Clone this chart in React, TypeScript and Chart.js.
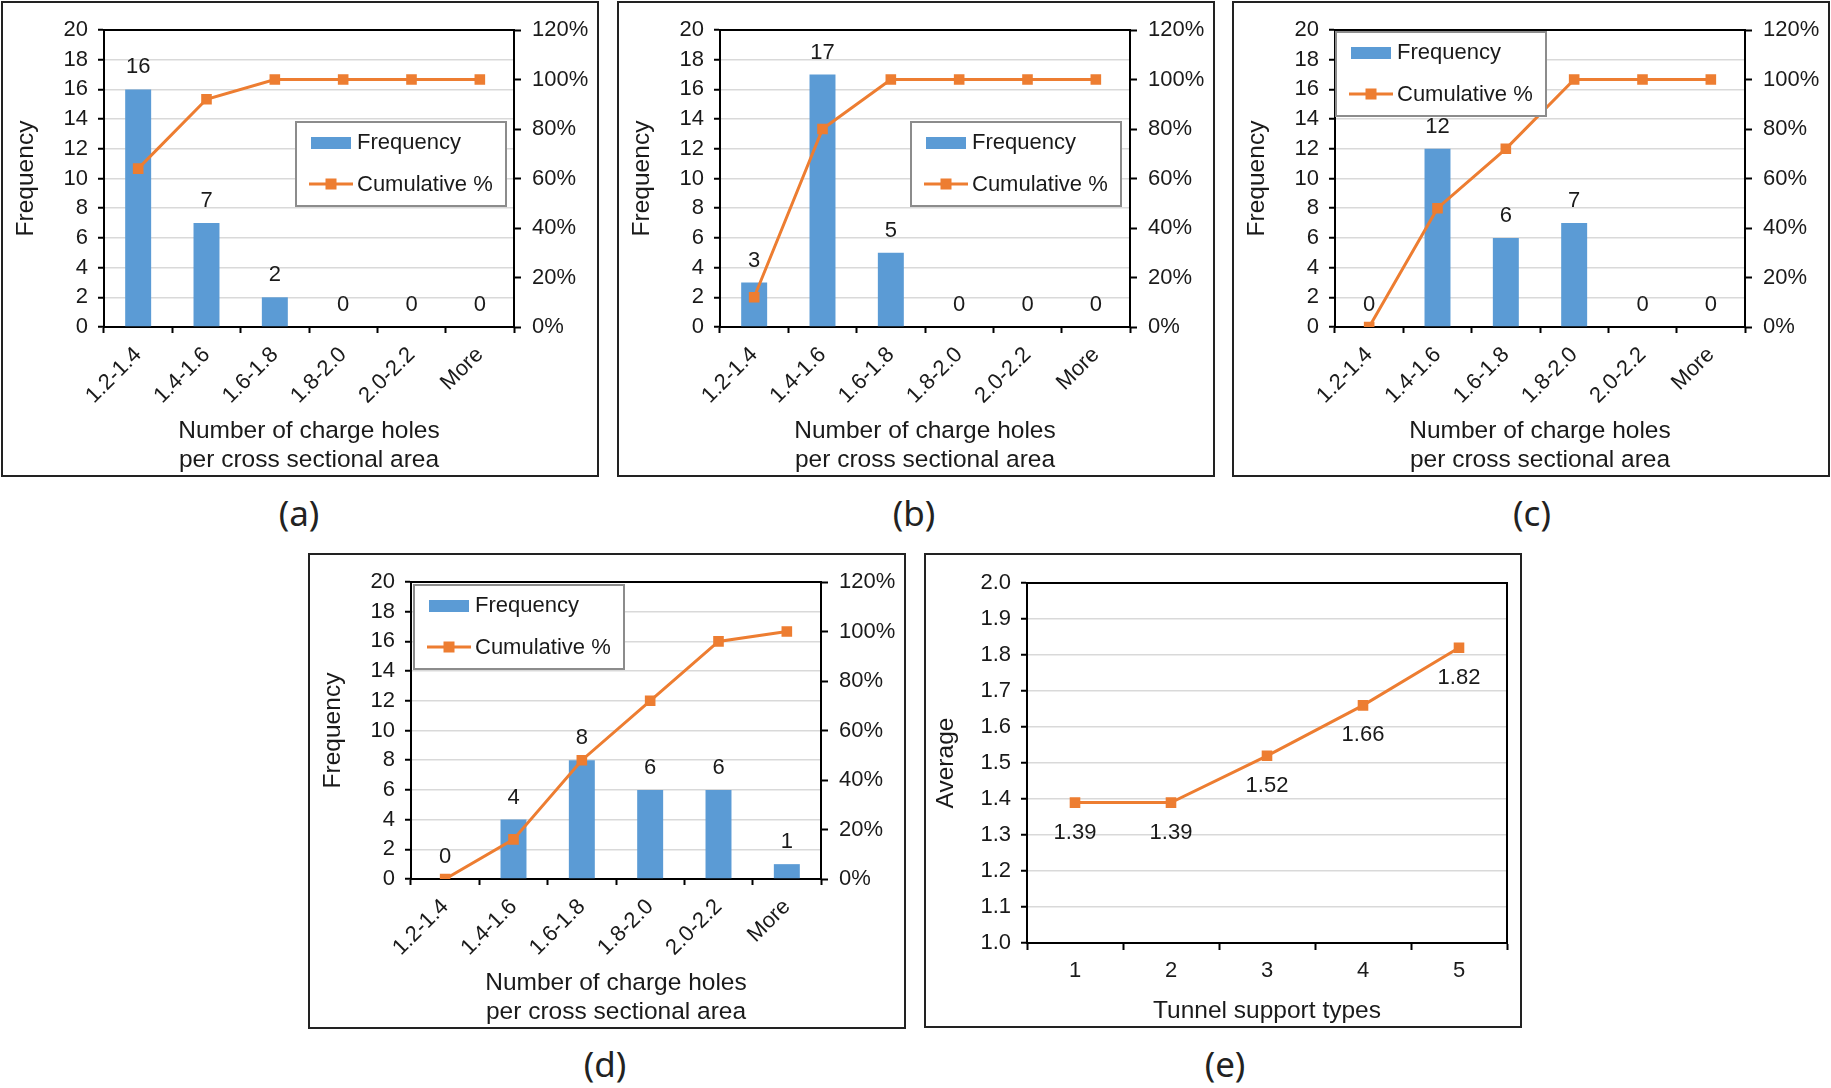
import React, { useEffect, useRef } from "react";
import { Chart, registerables } from "chart.js";

Chart.register(...registerables);

// ---------- data ----------
const binLabels = ["1.2-1.4", "1.4-1.6", "1.6-1.8", "1.8-2.0", "2.0-2.2", "More"];

const freqA = [16, 7, 2, 0, 0, 0];
const cumA = [0.64, 0.92, 1.0, 1.0, 1.0, 1.0];

const freqB = [3, 17, 5, 0, 0, 0];
const cumB = [0.12, 0.8, 1.0, 1.0, 1.0, 1.0];

const freqC = [0, 12, 6, 7, 0, 0];
const cumC = [0.0, 0.48, 0.72, 1.0, 1.0, 1.0];

const freqD = [0, 4, 8, 6, 6, 1];
const cumD = [0.0, 0.16, 0.48, 0.72, 0.96, 1.0];

const supportTypes = ["1", "2", "3", "4", "5"];
const averages = [1.39, 1.39, 1.52, 1.66, 1.82];

const xTitleHist = ["Number of charge holes", "per cross sectional area"];
const legendLabels = ["Frequency", "Cumulative %"];

// ---------- styles ----------
const FONT = "'Liberation Sans', Arial, sans-serif";
const BLUE = "#5B9BD5";
const ORANGE = "#ED7D31";
const TEXT = "#1a1a1a";
const GRID = "#D9D9D9";
const TICK_SIZE = 22;
const TITLE_SIZE = 24.5;

const framePlugin = {
  id: "frame",
  afterDraw(chart: any, _args: any, opts: any) {
    const { ctx, chartArea } = chart;
    ctx.save();
    ctx.strokeStyle = "#000";
    ctx.lineWidth = 2;
    ctx.beginPath();
    ctx.moveTo(chartArea.left - 1, chartArea.top);
    ctx.lineTo(chartArea.right + 1, chartArea.top);
    if (opts && opts.right) {
      ctx.moveTo(chartArea.right, chartArea.top);
      ctx.lineTo(chartArea.right, chartArea.bottom);
    }
    ctx.stroke();
    ctx.restore();
  },
};

const valueLabelPlugin = {
  id: "valueLabels",
  afterDatasetsDraw(chart: any, _args: any, opts: any) {
    if (!opts || !opts.enabled) return;
    const { ctx } = chart;
    const meta = chart.getDatasetMeta(opts.datasetIndex);
    const data = chart.data.datasets[opts.datasetIndex].data;
    ctx.save();
    ctx.fillStyle = TEXT;
    ctx.font = `${TICK_SIZE}px ${FONT}`;
    ctx.textAlign = "center";
    meta.data.forEach((el: any, i: number) => {
      const v = data[i];
      const txt = opts.decimals ? Number(v).toFixed(opts.decimals) : String(v);
      if (opts.below) {
        ctx.textBaseline = "middle";
        ctx.fillText(txt, el.x, el.y + opts.offset);
      } else {
        ctx.textBaseline = "bottom";
        ctx.fillText(txt, el.x, el.y - opts.offset);
      }
    });
    ctx.restore();
  },
};

const boxLegendPlugin = {
  id: "boxLegend",
  afterDraw(chart: any, _args: any, opts: any) {
    if (!opts || !opts.enabled) return;
    const { ctx, chartArea } = chart;
    const w = 210;
    const h = 84;
    const left = opts.anchor === "tr" ? chartArea.right - opts.dx - w : chartArea.left + opts.dx;
    const top = chartArea.top + opts.dy;
    ctx.save();
    ctx.fillStyle = "#fff";
    ctx.fillRect(left, top, w, h);
    ctx.strokeStyle = "#8c8c8c";
    ctx.lineWidth = 2;
    ctx.strokeRect(left, top, w, h);
    // frequency swatch
    ctx.fillStyle = BLUE;
    ctx.fillRect(left + 15, top + 15, 40, 12);
    // cumulative line + marker
    ctx.strokeStyle = ORANGE;
    ctx.lineWidth = 3;
    ctx.beginPath();
    ctx.moveTo(left + 13, top + 62);
    ctx.lineTo(left + 57, top + 62);
    ctx.stroke();
    ctx.fillStyle = ORANGE;
    ctx.fillRect(left + 35 - 5.5, top + 62 - 5.5, 11, 11);
    ctx.fillStyle = TEXT;
    ctx.font = `${TICK_SIZE}px ${FONT}`;
    ctx.textAlign = "left";
    ctx.textBaseline = "middle";
    ctx.fillText(legendLabels[0], left + 61, top + 21);
    ctx.fillText(legendLabels[1], left + 61, top + 63);
    ctx.restore();
  },
};

type HistProps = {
  freq: number[];
  cum: number[];
  legend: { anchor: string; dx: number; dy: number };
};

function HistChart({ freq, cum, legend }: HistProps) {
  const ref = useRef<HTMLCanvasElement | null>(null);
  useEffect(() => {
    if (!ref.current) return;
    const chart = new Chart(ref.current, {
      type: "bar",
      data: {
        labels: binLabels,
        datasets: [
          {
            type: "line",
            label: legendLabels[1],
            data: cum,
            yAxisID: "y1",
            borderColor: ORANGE,
            backgroundColor: ORANGE,
            borderWidth: 3,
            pointStyle: "rect",
            pointRadius: 7.5,
            pointBorderWidth: 0,
            pointBackgroundColor: ORANGE,
            tension: 0,
            order: 0,
          } as any,
          {
            type: "bar",
            label: legendLabels[0],
            data: freq,
            yAxisID: "y",
            backgroundColor: BLUE,
            borderWidth: 0,
            barPercentage: 0.38,
            categoryPercentage: 1,
            order: 1,
          } as any,
        ],
      },
      options: {
        animation: false,
        responsive: false,
        maintainAspectRatio: false,
        devicePixelRatio: 1,
        layout: { padding: { top: 27, left: 0, right: 0, bottom: 0 } },
        plugins: {
          legend: { display: false },
          tooltip: { enabled: false },
          valueLabels: { enabled: true, datasetIndex: 1, offset: 11 },
          boxLegend: { enabled: true, ...legend },
          frame: { right: false },
        } as any,
        scales: {
          x: {
            type: "category",
            offset: true,
            afterFit: (s: any) => {
              s.height = 148;
            },
            grid: {
              offset: true,
              drawOnChartArea: false,
              drawTicks: true,
              tickLength: 6,
              tickColor: "#000",
              tickWidth: 2,
            },
            border: { display: true, color: "#000", width: 2 },
            ticks: {
              autoSkip: false,
              minRotation: 45,
              maxRotation: 45,
              color: TEXT,
              padding: 9,
              font: { family: FONT, size: TICK_SIZE },
            },
            title: {
              display: true,
              text: xTitleHist,
              color: TEXT,
              padding: { top: 0, bottom: 1 },
              font: { family: FONT, size: TITLE_SIZE, lineHeight: 1.15 },
            },
          },
          y: {
            position: "left",
            min: 0,
            max: 20,
            afterFit: (s: any) => {
              s.width = 101;
            },
            grid: {
              color: GRID,
              lineWidth: 1.5,
              drawTicks: true,
              tickLength: 6,
              tickColor: "#000",
              tickWidth: 2,
            },
            border: { display: true, color: "#000", width: 2 },
            ticks: {
              stepSize: 2,
              color: TEXT,
              padding: 10,
              font: { family: FONT, size: TICK_SIZE },
            },
            title: {
              display: true,
              text: "Frequency",
              color: TEXT,
              padding: { top: 9, bottom: 0 },
              font: { family: FONT, size: TITLE_SIZE, lineHeight: 1.2 },
            },
          },
          y1: {
            position: "right",
            min: 0,
            max: 1.2,
            afterFit: (s: any) => {
              s.width = 83;
            },
            grid: {
              drawOnChartArea: false,
              drawTicks: true,
              tickLength: 7,
              tickColor: "#000",
              tickWidth: 2,
            },
            border: { display: true, color: "#000", width: 2 },
            ticks: {
              stepSize: 0.2,
              color: TEXT,
              padding: 11,
              font: { family: FONT, size: TICK_SIZE },
              callback: (v: any) => Math.round(Number(v) * 100) + "%",
            },
          },
        },
      } as any,
      plugins: [framePlugin, valueLabelPlugin, boxLegendPlugin],
    });
    return () => chart.destroy();
  }, []);
  return <canvas ref={ref} width={594} height={472} style={{ display: "block" }} />;
}

function AverageChart() {
  const ref = useRef<HTMLCanvasElement | null>(null);
  useEffect(() => {
    if (!ref.current) return;
    const chart = new Chart(ref.current, {
      type: "line",
      data: {
        labels: supportTypes,
        datasets: [
          {
            label: "Average",
            data: averages,
            borderColor: ORANGE,
            backgroundColor: ORANGE,
            borderWidth: 3,
            pointStyle: "rect",
            pointRadius: 7.5,
            pointBorderWidth: 0,
            pointBackgroundColor: ORANGE,
            tension: 0,
          } as any,
        ],
      },
      options: {
        animation: false,
        responsive: false,
        maintainAspectRatio: false,
        devicePixelRatio: 1,
        layout: { padding: { top: 28, left: 0, right: 13, bottom: 0 } },
        plugins: {
          legend: { display: false },
          tooltip: { enabled: false },
          valueLabels: { enabled: true, datasetIndex: 0, offset: 30, below: true, decimals: 2 },
          boxLegend: { enabled: false },
          frame: { right: true },
        } as any,
        scales: {
          x: {
            type: "category",
            offset: true,
            afterFit: (s: any) => {
              s.height = 83;
            },
            grid: {
              offset: true,
              drawOnChartArea: false,
              drawTicks: true,
              tickLength: 7,
              tickColor: "#000",
              tickWidth: 2,
            },
            border: { display: true, color: "#000", width: 2 },
            ticks: {
              color: TEXT,
              padding: 8,
              font: { family: FONT, size: TICK_SIZE },
            },
            title: {
              display: true,
              text: "Tunnel support types",
              color: TEXT,
              padding: { top: 0, bottom: 0 },
              font: { family: FONT, size: TITLE_SIZE, lineHeight: 1.2 },
            },
          },
          y: {
            position: "left",
            min: 1,
            max: 2,
            afterFit: (s: any) => {
              s.width = 101;
            },
            grid: {
              color: GRID,
              lineWidth: 1.5,
              drawTicks: true,
              tickLength: 6,
              tickColor: "#000",
              tickWidth: 2,
            },
            border: { display: true, color: "#000", width: 2 },
            ticks: {
              stepSize: 0.1,
              color: TEXT,
              padding: 10,
              font: { family: FONT, size: TICK_SIZE },
              callback: (v: any) => Number(v).toFixed(1),
            },
            title: {
              display: true,
              text: "Average",
              color: TEXT,
              padding: { top: 6, bottom: 0 },
              font: { family: FONT, size: TITLE_SIZE, lineHeight: 1.2 },
            },
          },
        },
      } as any,
      plugins: [framePlugin, valueLabelPlugin],
    });
    return () => chart.destroy();
  }, []);
  return <canvas ref={ref} width={594} height={471} style={{ display: "block" }} />;
}

const panelStyle = (left: number, top: number, h: number): React.CSSProperties => ({
  position: "absolute",
  left,
  top,
  width: 598,
  height: h,
  border: "2px solid #222",
  boxSizing: "border-box",
  background: "#fff",
});

const capStyle = (cx: number, cy: number): React.CSSProperties => ({
  position: "absolute",
  left: cx - 40,
  top: cy - 24,
  width: 80,
  height: 48,
  lineHeight: "48px",
  textAlign: "center",
  fontFamily: "'Noto Sans', 'Open Sans', sans-serif",
  fontSize: 35,
  color: "#222",
});

export default function App() {
  return (
    <div
      style={{
        position: "absolute",
        left: 0,
        top: 0,
        width: 1831,
        height: 1088,
        background: "#fff",
        overflow: "hidden",
      }}
    >
      <div style={panelStyle(1, 1, 476)}>
        <HistChart freq={freqA} cum={cumA} legend={{ anchor: "tr", dx: 8, dy: 92 }} />
      </div>
      <div style={panelStyle(617, 1, 476)}>
        <HistChart freq={freqB} cum={cumB} legend={{ anchor: "tr", dx: 9, dy: 92 }} />
      </div>
      <div style={panelStyle(1232, 1, 476)}>
        <HistChart freq={freqC} cum={cumC} legend={{ anchor: "tl", dx: 1, dy: 2 }} />
      </div>
      <div style={panelStyle(308, 553, 476)}>
        <HistChart freq={freqD} cum={cumD} legend={{ anchor: "tl", dx: 3, dy: 3 }} />
      </div>
      <div style={panelStyle(924, 553, 475)}>
        <AverageChart />
      </div>
      <div style={capStyle(299, 513)}>(a)</div>
      <div style={capStyle(914, 513)}>(b)</div>
      <div style={capStyle(1532, 513)}>(c)</div>
      <div style={capStyle(605, 1064)}>(d)</div>
      <div style={capStyle(1225, 1064)}>(e)</div>
    </div>
  );
}
